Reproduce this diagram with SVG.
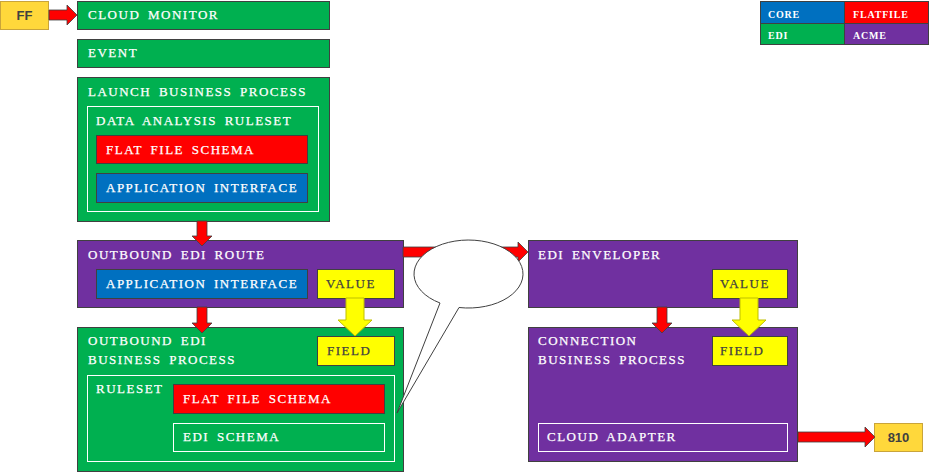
<svg xmlns="http://www.w3.org/2000/svg" width="930" height="472" viewBox="0 0 930 472">
<style>
.g{fill:#00B050;stroke:#404040;stroke-width:1}
.p{fill:#7030A0;stroke:#404040;stroke-width:1}
.r{fill:#FF0000;stroke:#404040;stroke-width:1}
.b{fill:#0070C0;stroke:#404040;stroke-width:1}
.y{fill:#FFFF00;stroke:#404040;stroke-width:1}
.o{fill:none;stroke:#FFFFFF;stroke-width:1}
.gold{fill:#FFD83B;stroke:#C9A43A;stroke-width:1}
.t{font-family:"Liberation Serif","DejaVu Serif",serif;font-size:13px;fill:#FFFFFF;letter-spacing:1.5px;word-spacing:3px;stroke:#FFFFFF;stroke-width:0.25}
.d{fill:#404040;stroke:#404040}
.lg{font-family:"Liberation Serif","DejaVu Serif",serif;font-size:10px;font-weight:bold;fill:#FFFFFF;letter-spacing:0.8px}
.s{font-family:"Liberation Sans","DejaVu Sans",sans-serif;font-size:13px;font-weight:bold;fill:#404040}
.ra{fill:#FF0000;stroke:#404040;stroke-width:0.8}
.ya{fill:#FFFF00;stroke:#BFBF00;stroke-width:1}
</style>
<rect width="930" height="472" fill="#FFFFFF"/>
<g id="ff">
<rect class="gold" x="0.5" y="1.5" width="48" height="28"/>
<text class="s" x="24.5" y="20" text-anchor="middle">FF</text>
</g>
<g id="cloud-monitor">
<rect class="g" x="77.5" y="1.5" width="252" height="28"/>
<text class="t" x="88" y="19">CLOUD MONITOR</text>
</g>
<g id="event">
<rect class="g" x="77.5" y="39.5" width="252" height="28"/>
<text class="t" x="88" y="57">EVENT</text>
</g>
<g id="launch-business-process">
<rect class="g" x="77.5" y="77.5" width="252" height="144"/>
<text class="t" x="88" y="96">LAUNCH BUSINESS PROCESS</text>
<rect class="o" x="87.5" y="106.5" width="231" height="105"/>
<text class="t" x="96" y="125">DATA ANALYSIS RULESET</text>
<rect class="r" x="96.5" y="135.5" width="211" height="28"/>
<text class="t" x="106" y="154">FLAT FILE SCHEMA</text>
<rect class="b" x="96.5" y="173.5" width="211" height="29"/>
<text class="t" x="106" y="192">APPLICATION INTERFACE</text>
</g>
<g id="outbound-edi-route">
<rect class="p" x="77.5" y="240.5" width="326" height="67"/>
<text class="t" x="88" y="259">OUTBOUND EDI ROUTE</text>
<rect class="b" x="96.5" y="269.5" width="211" height="29"/>
<text class="t" x="106" y="288">APPLICATION INTERFACE</text>
<rect class="y" x="317.5" y="269.5" width="77" height="29"/>
<text class="t d" x="326" y="288">VALUE</text>
</g>
<g id="outbound-edi-business-process">
<rect class="g" x="77.5" y="327.5" width="326" height="144"/>
<text class="t" x="88" y="345">OUTBOUND EDI</text>
<text class="t" x="88" y="364">BUSINESS PROCESS</text>
<rect class="y" x="317.5" y="336.5" width="77" height="29"/>
<text class="t d" x="327" y="355">FIELD</text>
<rect class="o" x="87.5" y="375.5" width="307" height="86"/>
<text class="t" x="96" y="393">RULESET</text>
<rect class="r" x="173.5" y="384.5" width="211" height="29"/>
<text class="t" x="183" y="403">FLAT FILE SCHEMA</text>
<rect class="o" x="173.5" y="423.5" width="211" height="28"/>
<text class="t" x="183" y="441">EDI SCHEMA</text>
</g>
<g id="edi-enveloper">
<rect class="p" x="528.5" y="240.5" width="269" height="67"/>
<text class="t" x="538" y="259">EDI ENVELOPER</text>
<rect class="y" x="712.5" y="269.5" width="75" height="29"/>
<text class="t d" x="720" y="288">VALUE</text>
</g>
<g id="connection-business-process">
<rect class="p" x="528.5" y="327.5" width="269" height="134"/>
<text class="t" x="538" y="345">CONNECTION</text>
<text class="t" x="538" y="364">BUSINESS PROCESS</text>
<rect class="y" x="712.5" y="336.5" width="75" height="29"/>
<text class="t d" x="720" y="355">FIELD</text>
<rect class="o" x="538.5" y="423.5" width="249" height="28"/>
<text class="t" x="547" y="441">CLOUD ADAPTER</text>
</g>
<g id="n810">
<rect class="gold" x="874.5" y="423.5" width="48" height="28"/>
<text class="s" x="898.5" y="442" text-anchor="middle">810</text>
</g>
<g id="legend">
<rect x="760.5" y="1.5" width="84" height="22" fill="#0070C0" stroke="#404040"/>
<rect x="844.5" y="1.5" width="84" height="22" fill="#FF0000" stroke="#404040"/>
<rect x="760.5" y="23.5" width="84" height="21" fill="#00B050" stroke="#404040"/>
<rect x="844.5" y="23.5" width="84" height="21" fill="#7030A0" stroke="#404040"/>
<text class="lg" x="768" y="18">CORE</text>
<text class="lg" x="853" y="18">FLATFILE</text>
<text class="lg" x="768" y="39">EDI</text>
<text class="lg" x="853" y="39">ACME</text>
</g>
<g id="connectors">
<polygon class="ra" points="49,10 67,10 67,5 77,15 67,25 67,20 49,20"/>
<polygon class="ra" points="197,221 207,221 207,236 212,236 202,246 192,236 197,236"/>
<polygon class="ra" points="197,307 207,307 207,323 212,323 202,333 192,323 197,323"/>
<polygon class="ra" points="657,307 667,307 667,323 672,323 662,333 652,323 657,323"/>
<polygon class="ra" points="403,247 518,247 518,242 528,252 518,262 518,257 403,257"/>
<polygon class="ra" points="798,432 865,432 865,427 875,437 865,447 865,442 798,442"/>
<polygon class="ya" points="346,298 364,298 364,320 372,320 355,336 338,320 346,320"/>
<polygon class="ya" points="740,298 758,298 758,320 766,320 749,336 732,320 740,320"/>
</g>
<g id="callout">
<path d="M440,303 A54.5,34 0 1,1 459,307.5 L397,413 Z" fill="#FFFFFF" stroke="#404040" stroke-width="1"/>
</g>
</svg>
